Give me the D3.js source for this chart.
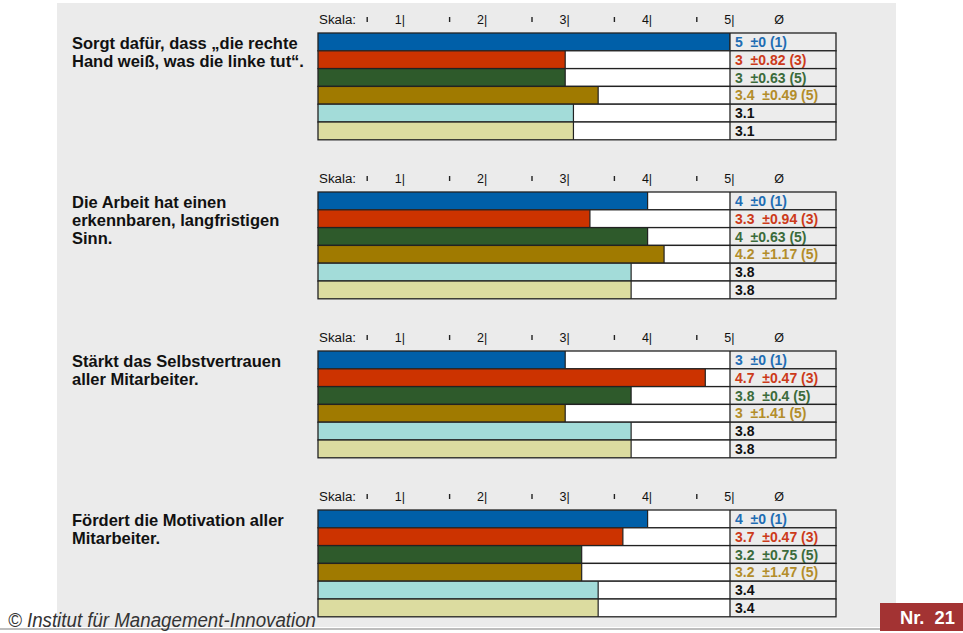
<!DOCTYPE html>
<html>
<head>
<meta charset="utf-8">
<script src="https://cdn.jsdelivr.net/npm/d3@7.9.0/dist/d3.min.js"></script>
<style>
  body { margin: 0; background: #fff; }
  svg { display: block; font-family: "Liberation Sans", Arial, sans-serif; }
</style>
</head>
<body>
<svg id="chart" width="963" height="633"></svg>
<script>
// ---- data ----
const questions = [
  ["Sorgt dafür, dass „die rechte", "Hand weiß, was die linke tut“."],
  ["Die Arbeit hat einen", "erkennbaren, langfristigen", "Sinn."],
  ["Stärkt das Selbstvertrauen", "aller Mitarbeiter."],
  ["Fördert die Motivation aller", "Mitarbeiter."]
];
const means = [
  [5, 3, 3, 3.4, 3.1, 3.1],
  [4, 3.3, 4, 4.2, 3.8, 3.8],
  [3, 4.7, 3.8, 3, 3.8, 3.8],
  [4, 3.7, 3.2, 3.2, 3.4, 3.4]
];
const sds = [
  [0, 0.82, 0.63, 0.49, null, null],
  [0, 0.94, 0.63, 1.17, null, null],
  [0, 0.47, 0.4, 1.41, null, null],
  [0, 0.47, 0.75, 1.47, null, null]
];
const counts = [
  [1, 3, 5, 5, null, null],
  [1, 3, 5, 5, null, null],
  [1, 3, 5, 5, null, null],
  [1, 3, 5, 5, null, null]
];
const scaleTicks = [1, 2, 3, 4, 5];
const halfTicks = [0.5, 1.5, 2.5, 3.5, 4.5];
const barColors = ["#005fa8", "#cc3300", "#2e5a2b", "#a07a00", "#a3dcd9", "#dcdca0"];
const textColors = ["#1f6db3", "#cc3a1a", "#3b6b3b", "#b38d2a", "#111", "#111"];

// ---- layout ----
const svg = d3.select("#chart");
const x = d3.scaleLinear().domain([0, 5]).range([318, 730]);
const valW = 106;
const rowH = 17.8;
const panelY = d3.scaleLinear().domain([0, 1]).range([33, 192]); // step per panel

// background panel
svg.append("rect").attr("x", 57).attr("y", 3).attr("width", 839).attr("height", 624).attr("fill", "#ebebeb");

questions.forEach((q, p) => {
  const top = panelY(p);
  const g = svg.append("g");

  // question label
  const lbl = g.append("text").attr("x", 72).attr("y", top + 16)
    .attr("font-size", 16.5).attr("font-weight", "bold").attr("fill", "#111");
  q.forEach((line, i) => lbl.append("tspan").attr("x", 72).attr("dy", i ? 18 : 0).text(line));

  // scale header
  const hy = top - 9;
  g.append("text").attr("x", 319).attr("y", hy)
    .attr("font-size", 12.5).attr("fill", "#111")
    .attr("textLength", 37).attr("lengthAdjust", "spacingAndGlyphs").text("Skala:");
  const ax = d3.axisTop(x).tickValues(scaleTicks).tickSize(0).tickFormat(d => d + "|");
  const axg = g.append("g").attr("transform", `translate(4,${hy})`).call(ax);
  axg.select(".domain").remove();
  axg.selectAll("text").attr("dy", 0).attr("y", 0)
    .attr("text-anchor", "end").attr("font-size", 12.5).attr("fill", "#111")
    .attr("font-family", null);
  g.selectAll(".half").data(halfTicks).join("line")
    .attr("x1", d => x(d) + 8).attr("x2", d => x(d) + 8)
    .attr("y1", hy - 7).attr("y2", hy - 2)
    .attr("stroke", "#222").attr("stroke-width", 1.4);
  g.append("text").attr("x", x(5) + valW / 2 - 4).attr("y", hy)
    .attr("text-anchor", "middle").attr("font-size", 12.5).attr("fill", "#111").text("Ø");

  // rows
  means[p].forEach((m, r) => {
    const y = top + r * rowH;
    g.append("rect").attr("x", x(0)).attr("y", y).attr("width", x(5) - x(0)).attr("height", rowH)
      .attr("fill", "#fff");
    g.append("rect").attr("x", x(0)).attr("y", y).attr("width", x(m) - x(0)).attr("height", rowH)
      .attr("fill", barColors[r]);
    g.append("line").attr("x1", x(m)).attr("x2", x(m)).attr("y1", y).attr("y2", y + rowH)
      .attr("stroke", "#222").attr("stroke-width", 1.2);
    g.append("rect").attr("x", x(5)).attr("y", y).attr("width", valW).attr("height", rowH)
      .attr("fill", "#ececec");
    g.append("rect").attr("x", x(0)).attr("y", y).attr("width", x(5) - x(0) + valW).attr("height", rowH)
      .attr("fill", "none").attr("stroke", "#222").attr("stroke-width", 1.3);
    g.append("line").attr("x1", x(5)).attr("x2", x(5)).attr("y1", y).attr("y2", y + rowH)
      .attr("stroke", "#222").attr("stroke-width", 1.3);

    const t = g.append("text").attr("x", x(5) + 5).attr("y", y + 14)
      .attr("font-size", 14).attr("font-weight", "bold").attr("fill", textColors[r])
      .style("white-space", "pre");
    let s = String(m);
    if (sds[p][r] !== null) s += "  ±" + sds[p][r] + " (" + counts[p][r] + ")";
    t.text(s);
  });
});

// footer
svg.append("line").attr("x1", 0).attr("x2", 963).attr("y1", 629).attr("y2", 629)
  .attr("stroke", "#bdbdbd").attr("stroke-width", 2);
svg.append("text").attr("x", 8).attr("y", 627)
  .attr("font-size", 20).attr("font-style", "italic").attr("fill", "#333")
  .attr("textLength", 308).attr("lengthAdjust", "spacingAndGlyphs")
  .text("© Institut für Management-Innovation");
svg.append("rect").attr("x", 880).attr("y", 603).attr("width", 83).attr("height", 28).attr("fill", "#a33333");
svg.append("text").attr("x", 900).attr("y", 624)
  .attr("font-size", 18).attr("font-weight", "bold").attr("fill", "#fff")
  .attr("textLength", 55).attr("lengthAdjust", "spacingAndGlyphs")
  .style("white-space", "pre").text("Nr.  21");
</script>
</body>
</html>
